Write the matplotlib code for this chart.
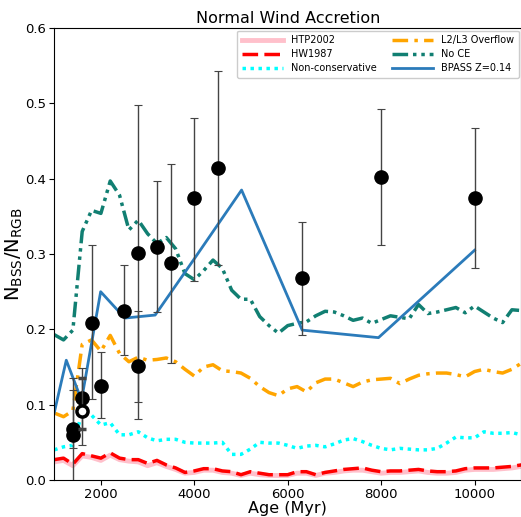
import matplotlib
matplotlib.use("Agg")
import matplotlib.pyplot as plt
import numpy as np

# model tracks, sampled every 200 Myr from 1000 to 11000
age = np.arange(1000, 11001, 200)
htp2002 = [0.024, 0.026, 0.019, 0.032, 0.030, 0.026, 0.033, 0.027, 0.025, 0.024,
           0.019, 0.023, 0.018, 0.014, 0.009, 0.010, 0.013, 0.013, 0.010, 0.009,
           0.006, 0.009, 0.007, 0.006, 0.006, 0.006, 0.009, 0.009, 0.006, 0.009,
           0.010, 0.012, 0.013, 0.013, 0.011, 0.009, 0.010, 0.010, 0.011, 0.012,
           0.010, 0.009, 0.009, 0.010, 0.013, 0.014, 0.014, 0.014, 0.015, 0.016, 0.018]
hw1987 = [0.027, 0.029, 0.021, 0.035, 0.032, 0.029, 0.036, 0.029, 0.027, 0.027,
          0.022, 0.026, 0.020, 0.016, 0.010, 0.012, 0.015, 0.015, 0.012, 0.011,
          0.007, 0.011, 0.009, 0.007, 0.007, 0.007, 0.011, 0.011, 0.007, 0.010,
          0.012, 0.014, 0.015, 0.016, 0.013, 0.011, 0.012, 0.012, 0.013, 0.014,
          0.012, 0.011, 0.011, 0.012, 0.015, 0.016, 0.016, 0.016, 0.017, 0.018, 0.020]
noncons = [0.040, 0.044, 0.046, 0.090, 0.086, 0.073, 0.076, 0.060, 0.060, 0.064,
           0.056, 0.052, 0.054, 0.054, 0.050, 0.049, 0.049, 0.049, 0.050, 0.034,
           0.034, 0.041, 0.050, 0.049, 0.049, 0.046, 0.042, 0.045, 0.046, 0.044,
           0.048, 0.053, 0.055, 0.051, 0.046, 0.042, 0.040, 0.042, 0.041, 0.040,
           0.040, 0.042, 0.049, 0.057, 0.056, 0.056, 0.064, 0.062, 0.062, 0.063, 0.060]
l2l3 = [0.089, 0.084, 0.092, 0.180, 0.186, 0.171, 0.192, 0.168, 0.157, 0.163,
        0.159, 0.160, 0.162, 0.157, 0.147, 0.138, 0.150, 0.153, 0.145, 0.144,
        0.142, 0.135, 0.124, 0.116, 0.112, 0.121, 0.124, 0.117, 0.129, 0.134,
        0.134, 0.129, 0.124, 0.130, 0.133, 0.134, 0.135, 0.128, 0.134, 0.139,
        0.141, 0.142, 0.142, 0.140, 0.137, 0.144, 0.147, 0.144, 0.142, 0.147, 0.155]
no_ce = [0.193, 0.186, 0.199, 0.330, 0.358, 0.354, 0.397, 0.378, 0.332, 0.345,
         0.327, 0.314, 0.322, 0.307, 0.274, 0.266, 0.278, 0.292, 0.281, 0.252,
         0.240, 0.240, 0.217, 0.205, 0.195, 0.205, 0.208, 0.210, 0.218, 0.224,
         0.223, 0.218, 0.212, 0.215, 0.208, 0.213, 0.218, 0.216, 0.214, 0.233,
         0.221, 0.223, 0.226, 0.229, 0.222, 0.231, 0.223, 0.215, 0.209, 0.226, 0.225]

# BPASS on its log-age grid
bpass_age = [1000, 1259, 1585, 1995, 2512, 3162, 3981, 5012, 6310, 7943, 10000]
bpass = [0.089, 0.159, 0.106, 0.250, 0.215, 0.219, 0.292, 0.385, 0.199, 0.189, 0.305]

# observed clusters
obs_age = [1400, 1400, 1600, 1800, 2000, 2500, 2800, 2800, 3200, 3500, 4000, 4500, 6300, 8000, 10000]
obs_val = [0.068, 0.060, 0.109, 0.209, 0.125, 0.225, 0.301, 0.152, 0.310, 0.288, 0.374, 0.414, 0.268, 0.402, 0.375]
obs_lo = [0.042, -0.02, 0.046, 0.108, 0.082, 0.166, 0.103, 0.081, 0.223, 0.155, 0.264, 0.285, 0.193, 0.312, 0.281]
obs_hi = [0.135, 0.120, 0.149, 0.312, 0.170, 0.285, 0.498, 0.224, 0.397, 0.420, 0.481, 0.543, 0.343, 0.492, 0.468]
open_age, open_val, open_lo, open_hi = 1600, 0.091, 0.068, 0.135

fig = plt.figure(figsize=(5.21, 5.17), dpi=100)
ax = fig.add_axes([0.104, 0.0716, 0.8965, 0.874])

ax.plot(age, htp2002, color="pink", lw=3.5, label="HTP2002")
ax.plot(age, hw1987, color="red", lw=2.5, ls=(0, (4.5, 1.8)), label="HW1987")
ax.plot(age, noncons, color="cyan", lw=2.5, ls=(0, (1, 1.3)), label="Non-conservative")
ax.plot(age, l2l3, color="orange", lw=2.5, ls=(0, (4.5, 1.8, 1, 1.8)), label="L2/L3 Overflow")
ax.plot(age, no_ce, color="#117f72", lw=2.5, ls=(0, (4.5, 1.4, 1, 1.4, 1, 1.4)), label="No CE")
ax.plot(bpass_age, bpass, color="#2b7bba", lw=2, label="BPASS Z=0.14")

v = np.array(obs_val)
yerr = [v - np.array(obs_lo), np.array(obs_hi) - v]
ax.errorbar(obs_age, obs_val, yerr=yerr, fmt="o", color="black", ms=9.5,
            ecolor="#444444", elinewidth=1, capsize=3, capthick=0.8, zorder=5)
ax.errorbar([open_age], [open_val], yerr=[[open_val - open_lo], [open_hi - open_val]],
            fmt="o", mfc="white", mec="black", mew=2.5, ms=8, ecolor="#444444",
            elinewidth=1, capsize=3, capthick=0.8, zorder=6)

ax.set_xlim(1000, 11000)
ax.set_ylim(0, 0.6)
ax.set_xticks([2000, 4000, 6000, 8000, 10000])
ax.tick_params(labelsize=9.5, pad=2.5)
ax.set_xlabel("Age (Myr)", fontsize=11.5, labelpad=0)
ax.set_ylabel(r"N$_{\rm BSS}$/N$_{\rm RGB}$", fontsize=14)
ax.yaxis.set_label_coords(-0.063, 0.5)
ax.set_title("Normal Wind Accretion", fontsize=11.5, pad=4)
ax.legend(loc="upper right", ncol=2, fontsize=7, handlelength=4.2, columnspacing=1.6,
          borderpad=0.5, labelspacing=0.4, borderaxespad=0.25, framealpha=1)

fig.savefig("out.png", dpi=100)
